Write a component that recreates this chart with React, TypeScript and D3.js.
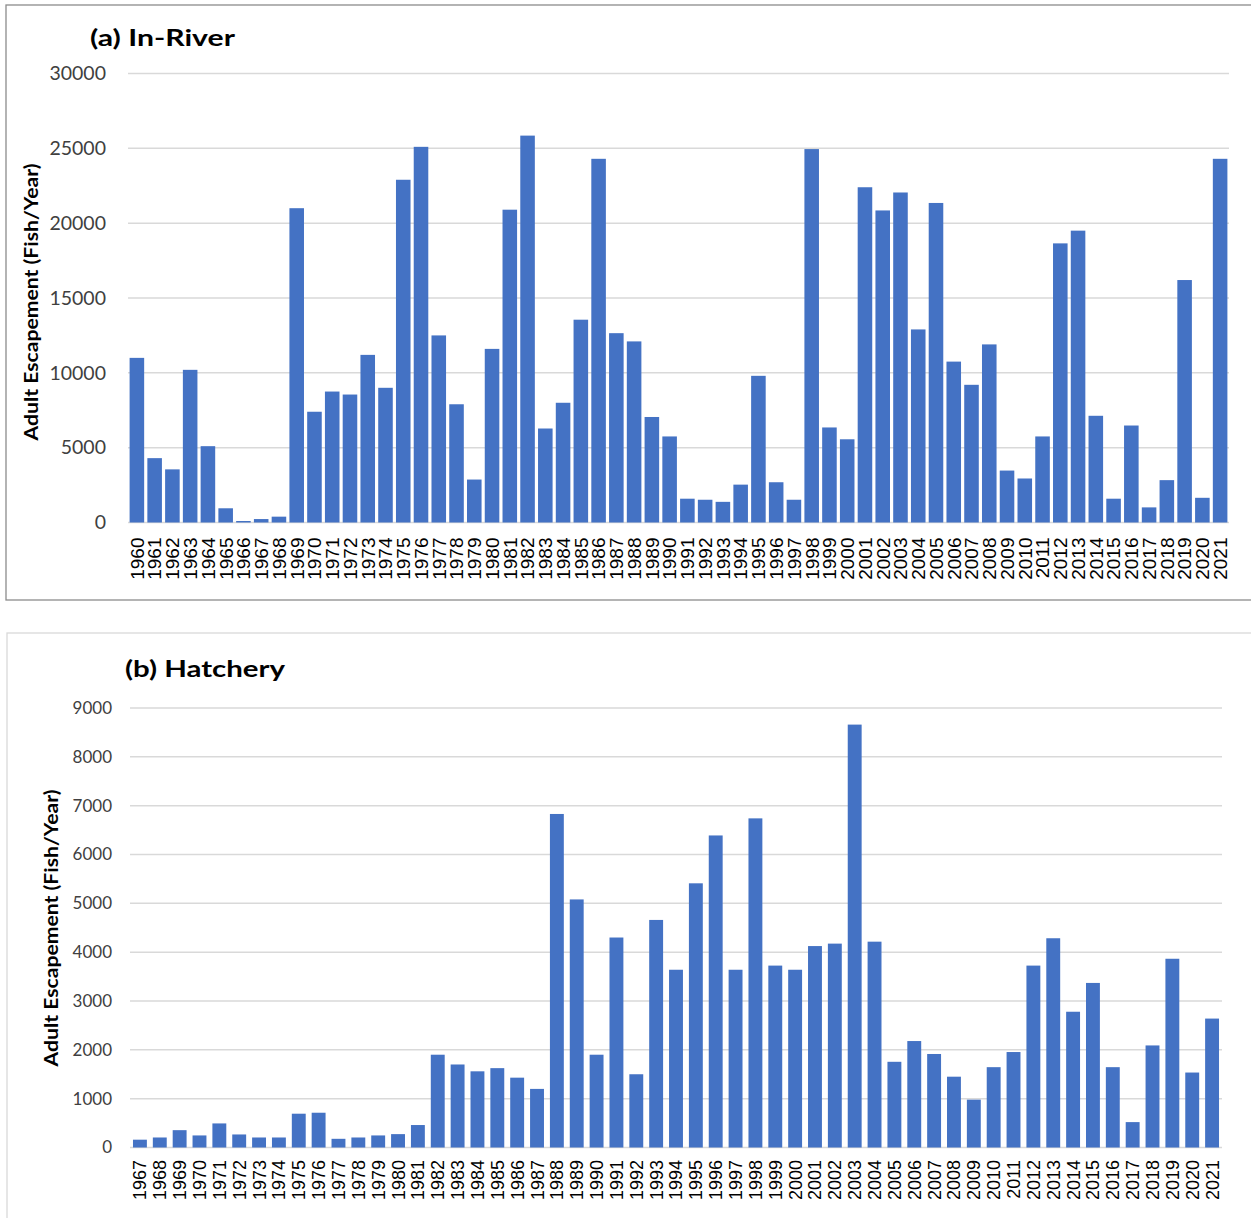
import React from 'react';
import * as d3 from 'd3';

// (a) In-River escapement, 1960-2021
const riverYears = d3.range(1960, 2022).map(String);
const riverValues = [
  11000, 4300, 3550, 10200, 5100, 950, 100, 230, 390, 21000,
  7400, 8750, 8550, 11200, 9000, 22900, 25100, 12500, 7900, 2870,
  11600, 20900, 25850, 6280, 8000, 13550, 24300, 12650, 12100, 7050,
  5750, 1590, 1520, 1380, 2530, 9800, 2690, 1520, 24950, 6350,
  5560, 22400, 20850, 22050, 12900, 21350, 10750, 9200, 11900, 3470,
  2940, 5750, 18650, 19500, 7130, 1590, 6480, 1010, 2830, 16200,
  1650, 24300,
];
const riverTicks = [0, 5000, 10000, 15000, 20000, 25000, 30000];

// (b) Hatchery escapement, 1967-2021
const hatcheryYears = d3.range(1967, 2022).map(String);
const hatcheryValues = [
  160, 205, 355, 247, 493, 267, 205, 205, 692, 712,
  178, 205, 247, 274, 460, 1900, 1700, 1560, 1625, 1430,
  1200, 6830, 5080, 1900, 4300, 1500, 4660, 3640, 5410, 6390,
  3640, 6740, 3725, 3640, 4125, 4175, 8660, 4215, 1755, 2180,
  1915, 1450, 980, 1645, 1955, 3725, 4285, 2780, 3370, 1645,
  520, 2090, 3865, 1535, 2640,
];
const hatcheryTicks = [0, 1000, 2000, 3000, 4000, 5000, 6000, 7000, 8000, 9000];

const BAR = '#4472c4';
const GRID = '#d9d9d9';
const CAL = 'Lato, "Open Sans", sans-serif';
const ARIAL = '"Liberation Sans", Arial, sans-serif';

type PanelProps = {
  title: string;
  years: string[];
  values: number[];
  ticks: number[];
  box: { x: number; y: number; w: number; h: number; stroke: string };
  plot: { left: number; right: number; top: number; bottom: number };
  pad: number;
  titleX: number;
  titleY: number;
  titleW: number;
  ylabX: number;
  ylabY: number;
  tickFont: number;
  tickRight: number;
  yearFont: number;
  yearGap: number;
};

function Panel(p: PanelProps) {
  const x = d3.scaleBand<string>().domain(p.years).range([p.plot.left, p.plot.right]).paddingInner(p.pad).paddingOuter(p.pad / 2);
  const y = d3.scaleLinear().domain([0, p.ticks[p.ticks.length - 1]]).range([p.plot.bottom, p.plot.top]);
  return (
    <g>
      <rect x={p.box.x} y={p.box.y} width={p.box.w} height={p.box.h} fill="#fff" stroke={p.box.stroke} strokeWidth={1.3} />
      <text x={p.titleX} y={p.titleY} fontFamily={CAL} fontWeight="bold" fontSize={22} fill="#000"
        textLength={p.titleW} lengthAdjust="spacingAndGlyphs">{p.title}</text>
      {p.ticks.map(t => (
        <g key={t}>
          <line x1={p.plot.left} x2={p.plot.right} y1={y(t)} y2={y(t)} stroke={GRID} strokeWidth={1.5} />
          <text x={p.tickRight} y={y(t)} dy="0.35em" textAnchor="end" fontFamily={CAL} fontSize={p.tickFont} fill="#404040">{t}</text>
        </g>
      ))}
      {p.values.map((v, i) => (
        <rect key={p.years[i]} x={x(p.years[i])} y={y(v)} width={x.bandwidth()} height={y(0) - y(v)} fill={BAR} />
      ))}
      {p.years.map(yr => (
        <text key={yr} transform={`translate(${(x(yr) ?? 0) + x.bandwidth() / 2},${y(0) + p.yearGap}) rotate(-90)`}
          textAnchor="end" dy="0.36em" fontFamily={ARIAL} fontSize={p.yearFont} fill="#000">{yr}</text>
      ))}
      <text transform={`translate(${p.ylabX},${p.ylabY}) rotate(-90)`} textAnchor="middle" dy="0.35em"
        fontFamily={CAL} fontWeight="bold" fontSize={18.5} fill="#000"
        textLength={277} lengthAdjust="spacingAndGlyphs">Adult Escapement (Fish/Year)</text>
    </g>
  );
}

export default function App() {
  return (
    <svg width={1251} height={1218} style={{ position: 'absolute', left: 0, top: 0, background: '#fff' }}>
      <Panel
        title="(a) In-River"
        years={riverYears}
        values={riverValues}
        ticks={riverTicks}
        box={{ x: 6, y: 5, w: 1250, h: 595, stroke: '#8c8c8c' }}
        plot={{ left: 128, right: 1229, top: 73.5, bottom: 522.5 }}
        pad={0.18}
        titleX={90}
        titleY={46}
        titleW={145}
        ylabX={32}
        ylabY={302}
        tickFont={19.5}
        tickRight={106}
        yearFont={19}
        yearGap={15}
      />
      <Panel
        title="(b) Hatchery"
        years={hatcheryYears}
        values={hatcheryValues}
        ticks={hatcheryTicks}
        box={{ x: 7, y: 633, w: 1250, h: 600, stroke: '#d9d9d9' }}
        plot={{ left: 130, right: 1222, top: 708, bottom: 1147.5 }}
        pad={0.3}
        titleX={125}
        titleY={677}
        titleW={160}
        ylabX={52}
        ylabY={928}
        tickFont={17}
        tickRight={112}
        yearFont={18}
        yearGap={12.5}
      />
    </svg>
  );
}
